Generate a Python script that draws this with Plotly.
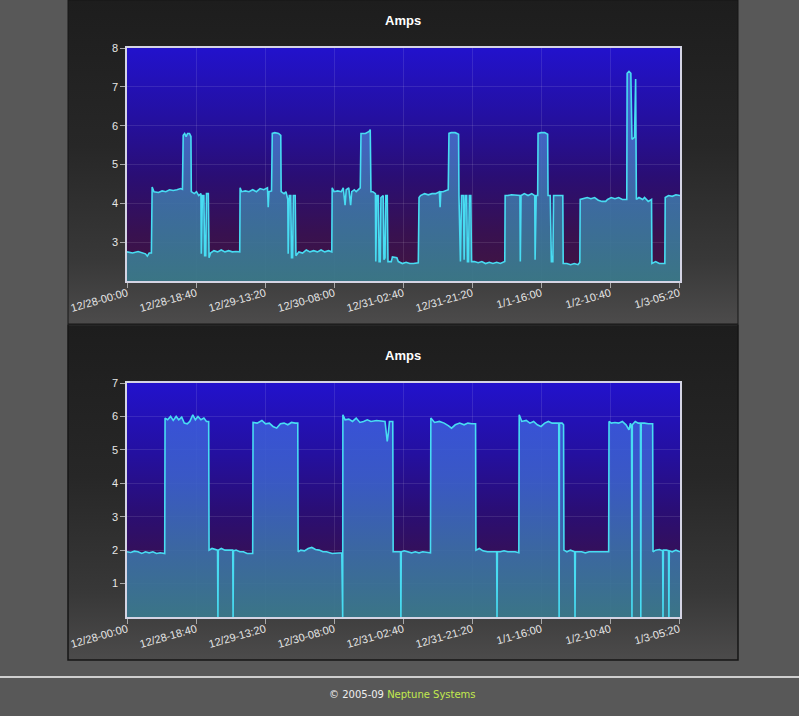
import base64
import plotly.graph_objects as go

# ---------------- data ----------------
tick_hours = [0, 18.667, 37.333, 56, 74.667, 93.333, 112, 130.667, 149.333]
tick_labels = ["12/28-00:00", "12/28-18:40", "12/29-13:20", "12/30-08:00",
               "12/31-02:40", "12/31-21:20", "1/1-16:00", "1/2-10:40", "1/3-05:20"]

amps1_ticks = [3, 4, 5, 6, 7, 8]
amps2_ticks = [1, 2, 3, 4, 5, 6, 7]

# (hours since 12/28 00:00, amps)
amps1 = [
    (0, 2.75), (1.5, 2.72), (3.0, 2.76), (4.2, 2.72), (5.0, 2.70), (5.5, 2.64), (6.0, 2.72), (6.6, 2.72),
    (6.8, 4.42), (7.3, 4.30), (8.5, 4.28), (9.5, 4.32), (10.5, 4.30), (11.5, 4.35), (12.5, 4.33),
    (13.5, 4.35), (14.5, 4.38), (15.0, 4.36),
    (15.2, 5.75), (15.6, 5.80), (16.0, 5.72), (16.4, 5.80), (16.9, 5.80), (17.3, 5.72), (17.4, 4.30),
    (18.2, 4.25), (18.8, 4.30), (19.4, 4.20), (20.0, 4.25),
    (20.1, 2.70), (20.4, 4.20), (20.8, 4.20), (21.0, 2.65), (21.3, 2.65), (21.5, 4.25), (22.0, 4.25), (22.2, 2.60),
    (22.6, 2.72), (23.5, 2.78), (24.5, 2.75), (25.5, 2.80), (26.5, 2.75), (27.5, 2.78), (28.5, 2.75),
    (29.5, 2.76), (30.5, 2.75),
    (30.6, 4.40), (31.0, 4.30), (32.0, 4.32), (33.0, 4.30), (34.0, 4.35), (35.0, 4.30), (36.0, 4.38),
    (37.0, 4.35), (38.0, 4.40), (38.2, 3.90), (38.4, 4.30), (39.1, 4.32),
    (39.3, 5.80), (40.0, 5.82), (41.0, 5.80), (41.6, 5.75), (41.7, 4.30),
    (42.5, 4.25), (43.0, 4.30), (43.5, 4.10),
    (43.6, 2.70), (43.9, 4.20), (44.3, 4.20), (44.5, 2.60), (44.8, 2.60), (45.0, 4.20), (45.5, 4.20),
    (45.7, 2.65), (46.0, 2.70),
    (46.5, 2.75), (47.5, 2.72), (48.5, 2.80), (49.5, 2.75), (50.5, 2.78), (51.5, 2.75), (52.5, 2.80),
    (53.5, 2.75), (54.5, 2.78), (55.4, 2.75),
    (55.5, 4.40), (56.0, 4.30), (57.0, 4.32), (58.0, 4.30), (58.5, 4.40), (59.0, 3.95), (59.3, 4.35),
    (60.0, 4.40), (60.5, 3.95), (60.8, 4.30), (61.5, 4.35), (62.0, 4.30), (63.1, 4.40),
    (63.3, 5.80), (64.5, 5.80), (65.5, 5.85), (65.8, 5.90), (66.0, 4.30),
    (66.5, 4.30), (67.2, 4.25),
    (67.3, 2.50), (67.6, 4.20), (68.0, 4.20), (68.2, 2.50), (68.5, 2.50), (68.7, 4.15), (69.3, 4.20),
    (69.5, 2.55), (69.8, 2.60), (70.0, 4.20), (70.4, 4.20), (70.6, 2.50),
    (71.5, 2.50), (71.8, 2.62), (73.0, 2.60), (73.4, 2.50), (74.5, 2.45), (75.5, 2.48), (76.5, 2.45),
    (77.5, 2.45), (78.8, 2.47),
    (79.0, 4.15), (79.4, 4.20), (80.5, 4.25), (81.5, 4.22), (82.5, 4.25), (83.5, 4.25), (84.5, 4.30),
    (84.7, 3.90), (84.9, 4.30), (85.5, 4.30), (86.9, 4.35),
    (87.1, 5.80), (87.7, 5.82), (88.8, 5.82), (89.7, 5.78), (89.8, 4.20),
    (90.2, 2.50), (90.5, 4.20), (91.0, 4.20), (91.2, 2.55), (91.5, 4.20), (91.9, 4.20), (92.1, 2.50),
    (92.4, 2.50), (92.6, 4.20), (93.0, 4.20), (93.2, 2.50),
    (94.0, 2.50), (95.0, 2.47), (96.0, 2.50), (97.0, 2.45), (98.0, 2.48), (99.0, 2.45), (100.0, 2.48),
    (101.0, 2.45), (102.2, 2.50),
    (102.3, 4.20), (103.0, 4.20), (104.0, 4.22), (105.5, 4.20), (106.3, 4.20),
    (106.4, 2.50), (106.6, 4.20), (107.5, 4.25), (108.5, 4.20), (109.5, 4.25), (110.3, 4.20),
    (110.4, 2.55), (110.7, 4.20), (111.1, 4.20),
    (111.2, 5.80), (112.0, 5.82), (113.0, 5.82), (113.8, 5.78), (113.9, 4.20),
    (114.5, 4.20), (114.8, 2.50), (115.2, 2.50), (115.4, 4.20), (116.8, 4.20), (117.9, 4.20), (118.0, 2.45),
    (119.0, 2.45), (120.0, 2.42), (121.0, 2.45), (122.0, 2.42), (122.5, 2.48),
    (122.6, 4.10), (123.5, 4.12), (124.5, 4.15), (125.5, 4.12), (126.5, 4.15), (127.5, 4.08),
    (128.5, 4.05), (129.5, 4.05), (130.0, 4.10), (131.0, 4.15), (132.0, 4.12), (133.0, 4.15),
    (134.0, 4.10), (135.2, 4.10),
    (135.3, 7.35), (135.8, 7.40), (136.3, 7.35), (136.6, 5.65), (137.3, 5.70), (137.6, 7.20), (137.8, 4.10),
    (138.5, 4.15), (139.5, 4.10), (140.0, 4.15), (141.0, 4.05), (141.9, 4.10),
    (142.0, 2.45), (143.0, 2.50), (144.0, 2.45), (145.5, 2.45),
    (145.6, 4.15), (146.5, 4.20), (147.5, 4.18), (148.5, 4.22), (149.6, 4.20),
]

amps2 = [
    (0, 1.95), (1.0, 1.93), (2.0, 1.97), (3.0, 1.95), (4.0, 1.90), (5.0, 1.95), (6.0, 1.92), (7.0, 1.95),
    (8.0, 1.90), (9.0, 1.92), (10.2, 1.90),
    (10.3, 5.95), (11.0, 5.90), (11.8, 6.00), (12.5, 5.88), (13.3, 6.00), (14.0, 5.90), (14.8, 5.98),
    (15.5, 5.80), (16.3, 5.78), (17.0, 5.85), (17.8, 6.05), (18.5, 5.90), (19.2, 6.00), (20.0, 5.90),
    (20.8, 5.95), (21.5, 5.85), (22.1, 5.85),
    (22.2, 2.00), (23.0, 2.05), (24.5, 2.00), (24.6, 0), (24.7, 2.00), (25.5, 2.05), (26.5, 2.00),
    (28.6, 2.00), (28.7, 0), (28.8, 1.98), (29.5, 2.00), (30.5, 1.95), (31.5, 1.95), (32.5, 1.90), (34.0, 1.90),
    (34.1, 5.82), (35.2, 5.80), (36.5, 5.88), (37.5, 5.78), (38.5, 5.80), (39.5, 5.70), (40.5, 5.65),
    (41.5, 5.78), (42.5, 5.80), (43.5, 5.75), (44.5, 5.82), (45.5, 5.80), (46.2, 5.80),
    (46.3, 1.95), (47.0, 2.00), (48.0, 1.98), (49.0, 2.05), (50.0, 2.08), (51.0, 2.02), (52.0, 2.00),
    (53.0, 1.95), (54.0, 1.95), (55.5, 1.90), (58.1, 1.92),
    (58.2, 0), (58.35, 0), (58.4, 6.05), (59.0, 5.90), (60.0, 5.92), (61.0, 5.85), (62.0, 5.95),
    (63.0, 5.82), (64.0, 5.85), (65.0, 5.90), (66.0, 5.85), (67.5, 5.88), (69.8, 5.85),
    (70.1, 5.50), (70.4, 5.25), (70.7, 5.50), (71.0, 5.85), (71.9, 5.85),
    (72.0, 1.95), (73.0, 1.95), (74.0, 1.95), (74.1, 0), (74.2, 1.95), (75.0, 1.98), (76.0, 1.95),
    (77.0, 1.92), (78.0, 1.95), (79.0, 1.92), (80.0, 1.95), (81.0, 1.93), (82.1, 1.92),
    (82.2, 5.95), (83.2, 5.82), (84.5, 5.85), (85.8, 5.80), (87.0, 5.72), (87.8, 5.65), (88.8, 5.75),
    (90.0, 5.80), (91.2, 5.75), (92.2, 5.80), (93.3, 5.78), (94.3, 5.78),
    (94.4, 2.00), (95.3, 2.05), (96.3, 1.98), (97.5, 1.95), (98.5, 1.95), (100.0, 1.95),
    (100.1, 0), (100.2, 1.95), (101.0, 1.95), (102.0, 1.98), (103.0, 1.95), (104.0, 1.95), (105.0, 1.95),
    (106.0, 1.92),
    (106.1, 6.05), (106.8, 5.85), (108.0, 5.88), (109.0, 5.80), (110.0, 5.85), (111.0, 5.75), (112.0, 5.70),
    (113.0, 5.80), (114.0, 5.85), (115.0, 5.80), (116.8, 5.80),
    (116.9, 0), (117.0, 5.80), (117.7, 5.80), (118.1, 5.75),
    (118.2, 2.00), (119.0, 1.95), (120.0, 2.00), (121.1, 1.95), (121.2, 0), (121.3, 1.95), (122.0, 1.95),
    (123.0, 1.95), (124.0, 1.92), (125.0, 1.95), (126.0, 1.95), (127.0, 1.95), (128.5, 1.95), (130.3, 1.95),
    (130.4, 5.85), (131.0, 5.80), (132.0, 5.82), (133.0, 5.80), (134.0, 5.85), (135.0, 5.75),
    (135.8, 5.60), (136.2, 5.80), (136.5, 5.60), (136.6, 0), (136.7, 5.75), (137.5, 5.85), (138.3, 5.80),
    (138.9, 5.80), (139.0, 0), (139.1, 5.80), (140.0, 5.80), (141.0, 5.78), (142.2, 5.78),
    (142.3, 1.95), (143.0, 2.00), (144.0, 2.02), (144.9, 1.98), (145.0, 0), (145.1, 2.00), (146.0, 2.00),
    (146.5, 1.98), (146.6, 0), (146.7, 1.98), (147.5, 1.95), (148.5, 2.00), (149.6, 1.95),
]

amps1_hours = [p[0] for p in amps1]
amps1_values = [p[1] for p in amps1]
amps2_hours = [p[0] for p in amps2]
amps2_values = [p[1] for p in amps2]

# ---------------- helpers ----------------
W, H = 799, 716


def P(px):
    return px / W


def Q(py):
    return 1 - py / H


def vgrad(stops):
    s = "".join(f'<stop offset="{o}" stop-color="{c}"/>' for o, c in stops)
    svg = ('<svg xmlns="http://www.w3.org/2000/svg" width="100" height="100" '
           'viewBox="0 0 100 100" preserveAspectRatio="none">'
           f'<defs><linearGradient id="g" x1="0" y1="0" x2="0" y2="1">{s}</linearGradient></defs>'
           '<rect x="0" y="0" width="100" height="100" fill="url(#g)"/></svg>')
    return "data:image/svg+xml;base64," + base64.b64encode(svg.encode()).decode()


panel_src = vgrad([(0, "#1d1d1d"), (0.45, "#272727"), (0.8, "#383838"), (1, "#4c4b4b")])
plot_src = vgrad([(0, "#2212cc"), (0.3, "#2410a0"), (0.55, "#2a0e74"), (0.8, "#381150"), (1, "#42163f")])

LINE = "#48dcf2"
TICKFONT = dict(family="Liberation Sans, Arial, sans-serif", size=11, color="#e6e6e6")

fig = go.Figure()

fig.add_trace(go.Scatter(
    x=amps1_hours, y=amps1_values, mode="lines", xaxis="x", yaxis="y",
    line=dict(color=LINE, width=1.6), fill="tozeroy",
    fillgradient=dict(type="vertical", start=2, stop=8,
                      colorscale=[[0, "rgba(58,124,138,0.93)"], [0.35, "rgba(62,116,168,0.9)"],
                                  [0.65, "rgba(70,110,205,0.88)"], [1, "rgba(72,100,230,0.88)"]]),
    hoverinfo="x+y", showlegend=False,
))
fig.add_trace(go.Scatter(
    x=amps2_hours, y=amps2_values, mode="lines", xaxis="x2", yaxis="y2",
    line=dict(color=LINE, width=1.6), fill="tozeroy",
    fillgradient=dict(type="vertical", start=0, stop=7,
                      colorscale=[[0, "rgba(58,124,140,0.93)"], [0.3, "rgba(60,112,170,0.9)"],
                                  [0.6, "rgba(60,98,205,0.88)"], [1, "rgba(58,86,228,0.88)"]]),
    hoverinfo="x+y", showlegend=False,
))

xcommon = dict(range=[0, 149.6], tickmode="array", tickvals=tick_hours, ticktext=tick_labels,
               tickangle=-16, tickfont=TICKFONT, showgrid=True, gridcolor="rgba(255,255,255,0.10)",
               gridwidth=1, showline=True, linecolor="#d4d4e4", linewidth=1.5, mirror=True,
               ticks="outside", ticklen=5, tickcolor="#a8a8a8", zeroline=False, fixedrange=True,
               automargin=False, ticklabelstandoff=-5)
ycommon = dict(tickfont=TICKFONT, showgrid=True, gridcolor="rgba(255,255,255,0.10)", gridwidth=1,
               showline=True, linecolor="#d4d4e4", linewidth=1.5, mirror=True, ticks="outside",
               ticklen=5, tickcolor="#a8a8a8", zeroline=False, fixedrange=True, tickmode="array",
               automargin=False)

fig.update_layout(
    width=W, height=H, autosize=False,
    margin=dict(l=0, r=0, t=0, b=0, pad=0, autoexpand=False),
    paper_bgcolor="#585858", plot_bgcolor="rgba(0,0,0,0)",
    xaxis=dict(domain=[P(127), P(680)], anchor="y", **xcommon),
    yaxis=dict(domain=[Q(281), Q(48)], anchor="x", range=[2, 8], tickvals=amps1_ticks, **ycommon),
    xaxis2=dict(domain=[P(127), P(680)], anchor="y2", **xcommon),
    yaxis2=dict(domain=[Q(617), Q(383)], anchor="x2", range=[0, 7], tickvals=amps2_ticks, **ycommon),
    images=[
        dict(source=panel_src, xref="paper", yref="paper", x=P(68), y=Q(0), sizex=P(738) - P(68),
             sizey=324 / H, xanchor="left", yanchor="top", sizing="stretch", layer="below"),
        dict(source=panel_src, xref="paper", yref="paper", x=P(68), y=Q(326), sizex=P(738) - P(68),
             sizey=334 / H, xanchor="left", yanchor="top", sizing="stretch", layer="below"),
        dict(source=plot_src, xref="x domain", yref="y domain", x=0, y=1, sizex=1, sizey=1,
             xanchor="left", yanchor="top", sizing="stretch", layer="below"),
        dict(source=plot_src, xref="x2 domain", yref="y2 domain", x=0, y=1, sizex=1, sizey=1,
             xanchor="left", yanchor="top", sizing="stretch", layer="below"),
    ],
    shapes=[
        dict(type="rect", xref="paper", yref="paper", x0=P(68), x1=P(738), y0=Q(324), y1=Q(0),
             line=dict(color="#161616", width=1), layer="below"),
        dict(type="rect", xref="paper", yref="paper", x0=P(68), x1=P(738), y0=Q(660), y1=Q(325),
             line=dict(color="#161616", width=1.5), layer="below"),
        dict(type="line", xref="paper", yref="paper", x0=0, x1=1, y0=Q(677), y1=Q(677),
             line=dict(color="#cfcfcf", width=2), layer="below"),
    ],
    annotations=[
        dict(text="<b>Amps</b>", xref="paper", yref="paper", x=P(403), y=Q(20), showarrow=False,
             font=dict(family="Liberation Sans, Arial, sans-serif", size=13, color="#ffffff"),
             xanchor="center", yanchor="middle"),
        dict(text="<b>Amps</b>", xref="paper", yref="paper", x=P(403), y=Q(355), showarrow=False,
             font=dict(family="Liberation Sans, Arial, sans-serif", size=13, color="#ffffff"),
             xanchor="center", yanchor="middle"),
        dict(text='© 2005-09 <span style="color:#c2ea4e">Neptune Systems</span>', xref="paper",
             yref="paper", x=P(402), y=Q(694), showarrow=False,
             font=dict(family="DejaVu Sans, sans-serif", size=10, color="#efefef"),
             xanchor="center", yanchor="middle"),
    ],
)

fig.write_html("out.html", config={"displayModeBar": False})
